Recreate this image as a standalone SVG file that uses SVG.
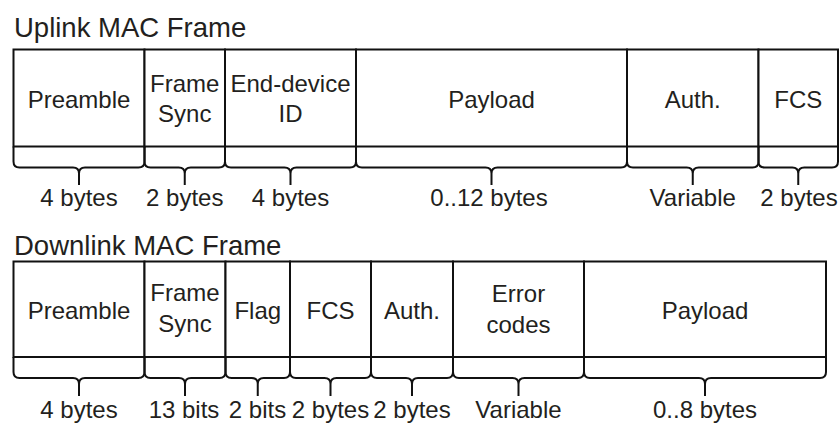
<svg xmlns="http://www.w3.org/2000/svg" width="839" height="423" viewBox="0 0 839 423">
<style>
  .box { fill: #ffffff; stroke: #111111; stroke-width: 2; }
  .ln { fill: none; stroke: #111111; stroke-width: 2; }
  .br { fill: none; stroke: #111111; stroke-width: 2; stroke-linejoin: round; }
  .t { font-family: "Liberation Sans", Arial, sans-serif; font-size: 24px; fill: #231f20; text-anchor: middle; }
  .title { font-family: "Liberation Sans", Arial, sans-serif; font-size: 27.5px; fill: #231f20; }
</style>
<rect width="839" height="423" fill="#ffffff"/>

<g id="uplink-title"><text class="title" x="14" y="36.5">Uplink MAC Frame</text></g>

<g id="uplink-preamble">
  <rect class="box" x="13.5" y="49.5" width="131" height="97"/>
  <text class="t" x="79" y="108">Preamble</text>
</g>
<g id="uplink-framesync">
  <rect class="box" x="144.5" y="49.5" width="80.5" height="97"/>
  <text class="t" x="184.75" y="91.5">Frame</text>
  <text class="t" x="184.75" y="122">Sync</text>
</g>
<g id="uplink-enddevice">
  <rect class="box" x="225" y="49.5" width="131" height="97"/>
  <text class="t" x="290.5" y="91.5">End-device</text>
  <text class="t" x="290.5" y="122">ID</text>
</g>
<g id="uplink-payload">
  <rect class="box" x="356" y="49.5" width="271" height="97"/>
  <text class="t" x="491.5" y="108">Payload</text>
</g>
<g id="uplink-auth">
  <rect class="box" x="627" y="49.5" width="131.5" height="97"/>
  <text class="t" x="692.75" y="108">Auth.</text>
</g>
<g id="uplink-fcs">
  <rect class="box" x="758.5" y="49.5" width="79.5" height="97"/>
  <text class="t" x="798.25" y="108">FCS</text>
</g>

<g id="downlink-title"><text class="title" x="14" y="254.5">Downlink MAC Frame</text></g>

<g id="downlink-preamble">
  <rect class="box" x="13.5" y="261.5" width="131" height="95.5"/>
  <text class="t" x="79" y="318.5">Preamble</text>
</g>
<g id="downlink-framesync">
  <rect class="box" x="144.5" y="261.5" width="81" height="95.5"/>
  <text class="t" x="185" y="301">Frame</text>
  <text class="t" x="185" y="332">Sync</text>
</g>
<g id="downlink-flag">
  <rect class="box" x="225.5" y="261.5" width="64.5" height="95.5"/>
  <text class="t" x="257.75" y="318.5">Flag</text>
</g>
<g id="downlink-fcs">
  <rect class="box" x="290" y="261.5" width="81" height="95.5"/>
  <text class="t" x="330.5" y="318.5">FCS</text>
</g>
<g id="downlink-auth">
  <rect class="box" x="371" y="261.5" width="82" height="95.5"/>
  <text class="t" x="412" y="318.5">Auth.</text>
</g>
<g id="downlink-errorcodes">
  <rect class="box" x="453" y="261.5" width="131" height="95.5"/>
  <text class="t" x="518.5" y="301.5">Error</text>
  <text class="t" x="518.5" y="333">codes</text>
</g>
<g id="downlink-payload">
  <rect class="box" x="584" y="261.5" width="242" height="95.5"/>
  <text class="t" x="705" y="318.5">Payload</text>
</g>

<g id="connectors">
  <!-- uplink braces: mid 146.5, bottom 167.5, tip 185 -->
  <path class="br" d="M13.5 146.5 V161.5 Q13.5 167.5 19.5 167.5 H73 Q79 167.5 79 173.5 V185 M144.5 146.5 V161.5 Q144.5 167.5 138.5 167.5 H85 Q79 167.5 79 173.5"/>
  <path class="br" d="M144.5 146.5 V161.5 Q144.5 167.5 150.5 167.5 H178.75 Q184.75 167.5 184.75 173.5 V185 M225 146.5 V161.5 Q225 167.5 219 167.5 H190.75 Q184.75 167.5 184.75 173.5"/>
  <path class="br" d="M225 146.5 V161.5 Q225 167.5 231 167.5 H284.5 Q290.5 167.5 290.5 173.5 V185 M356 146.5 V161.5 Q356 167.5 350 167.5 H296.5 Q290.5 167.5 290.5 173.5"/>
  <path class="br" d="M356 146.5 V161.5 Q356 167.5 362 167.5 H485.5 Q491.5 167.5 491.5 173.5 V185 M627 146.5 V161.5 Q627 167.5 621 167.5 H497.5 Q491.5 167.5 491.5 173.5"/>
  <path class="br" d="M627 146.5 V161.5 Q627 167.5 633 167.5 H686.75 Q692.75 167.5 692.75 173.5 V185 M758.5 146.5 V161.5 Q758.5 167.5 752.5 167.5 H698.75 Q692.75 167.5 692.75 173.5"/>
  <path class="br" d="M758.5 146.5 V161.5 Q758.5 167.5 764.5 167.5 H792.25 Q798.25 167.5 798.25 173.5 V185 M838 146.5 V161.5 Q838 167.5 832 167.5 H804.25 Q798.25 167.5 798.25 173.5"/>
  <!-- downlink braces: mid 357, bottom 378, tip 396 -->
  <path class="br" d="M13.5 357 V372 Q13.5 378 19.5 378 H73 Q79 378 79 384 V396 M144.5 357 V372 Q144.5 378 138.5 378 H85 Q79 378 79 384"/>
  <path class="br" d="M144.5 357 V372 Q144.5 378 150.5 378 H179 Q185 378 185 384 V396 M225.5 357 V372 Q225.5 378 219.5 378 H191 Q185 378 185 384"/>
  <path class="br" d="M225.5 357 V372 Q225.5 378 231.5 378 H251.75 Q257.75 378 257.75 384 V396 M290 357 V372 Q290 378 284 378 H263.75 Q257.75 378 257.75 384"/>
  <path class="br" d="M290 357 V372 Q290 378 296 378 H324.5 Q330.5 378 330.5 384 V396 M371 357 V372 Q371 378 365 378 H336.5 Q330.5 378 330.5 384"/>
  <path class="br" d="M371 357 V372 Q371 378 377 378 H406 Q412 378 412 384 V396 M453 357 V372 Q453 378 447 378 H418 Q412 378 412 384"/>
  <path class="br" d="M453 357 V372 Q453 378 459 378 H512.5 Q518.5 378 518.5 384 V396 M584 357 V372 Q584 378 578 378 H524.5 Q518.5 378 518.5 384"/>
  <path class="br" d="M584 357 V372 Q584 378 590 378 H699 Q705 378 705 384 V396 M826 357 V372 Q826 378 820 378 H711 Q705 378 705 384"/>
</g>

<g id="uplink-sizes">
  <text class="t" x="79" y="206">4 bytes</text>
  <text class="t" x="184.75" y="206">2 bytes</text>
  <text class="t" x="290.5" y="206">4 bytes</text>
  <text class="t" x="489" y="206">0..12 bytes</text>
  <text class="t" x="692.75" y="206">Variable</text>
  <text class="t" x="799" y="206">2 bytes</text>
</g>
<g id="downlink-sizes">
  <text class="t" x="79" y="418">4 bytes</text>
  <text class="t" x="184" y="418">13 bits</text>
  <text class="t" x="257.5" y="418">2 bits</text>
  <text class="t" x="330.5" y="418">2 bytes</text>
  <text class="t" x="412" y="418">2 bytes</text>
  <text class="t" x="518.5" y="418">Variable</text>
  <text class="t" x="705" y="418">0..8 bytes</text>
</g>
</svg>
